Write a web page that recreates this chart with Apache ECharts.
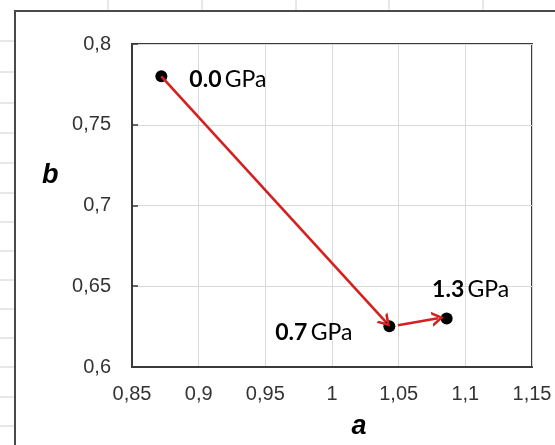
<!DOCTYPE html>
<html>
<head>
<meta charset="utf-8">
<script src="https://cdn.jsdelivr.net/npm/echarts@6/dist/echarts.min.js"></script>
<style>html,body{margin:0;padding:0;background:#fff;}#c{width:555px;height:445px;}</style>
</head>
<body>
<div id="c"></div>
<script>
// Data
var pointA = [0.872, 1.043, 1.086];
var pointB = [0.780, 0.6253, 0.630];
var pressureNum = ['0.0', '0.7', '1.3'];
var pressureUnit = 'GPa';
var xName = 'a';
var yName = 'b';
// arrows: start/end in data units
var arrowStartA = [0.872, 1.0495];
var arrowStartB = [0.780, 0.6259];
var arrowEndA = [1.0405, 1.0795];
var arrowEndB = [0.6278, 0.6302];

function fmt(v){ return String(+v.toFixed(2)).replace('.', ','); }

var chart = echarts.init(document.getElementById('c'), null, {renderer:'canvas'});

var labelPos = [
  {position:'right', distance: 22, offset:[0, 3]},
  {position:'left', distance: 31, offset:[0, 6]},
  {position:'top', distance: 11, offset:[24, 0]}
];

var scatterData = pointA.map(function(a, i){
  return {
    value:[a, pointB[i]],
    label:{
      show:true,
      position: labelPos[i].position,
      distance: labelPos[i].distance,
      offset: labelPos[i].offset,
      formatter: '{n|' + pressureNum[i] + '} {u|' + pressureUnit + '}',
      rich:{
        n:{fontFamily:'Lato', fontWeight:'bold', fontSize:23, color:'#000'},
        u:{fontFamily:'Lato', fontSize:23, color:'#000'}
      }
    }
  };
});

var arrowPath = 'path://M0,10 L5,0 L10,10 L8,10 L5,4 L2,10 Z';
var arrowData = arrowStartA.map(function(a, i){
  return [
    {coord:[a, arrowStartB[i]], symbol:'none'},
    {coord:[arrowEndA[i], arrowEndB[i]], symbol:arrowPath, symbolSize:[15,12]}
  ];
});

var sheetGraphics = [];
var rowYs = [41,72,103,133,163,193,222,251,280,309,338,367,397,426];
rowYs.forEach(function(y){
  sheetGraphics.push({type:'line', shape:{x1:0,y1:y,x2:14,y2:y}, style:{stroke:'#d0d0d0', lineWidth:1}, silent:true});
});
[108,202,296,389,483].forEach(function(x){
  sheetGraphics.push({type:'line', shape:{x1:x,y1:0,x2:x,y2:10}, style:{stroke:'#d0d0d0', lineWidth:1}, silent:true});
});
sheetGraphics.push({type:'rect', shape:{x:15,y:11,width:700,height:600}, style:{fill:'none', stroke:'#4a4a4a', lineWidth:2}, silent:true, z:-1});
sheetGraphics.push({type:'text', left:42, top:162, style:{text:yName, font:'italic bold 27px "Liberation Sans"', fill:'#000'}, silent:true});

chart.setOption({
  animation:false,
  backgroundColor:'#fff',
  graphic: sheetGraphics,
  grid:{left:132, top:44, right:23, bottom:77, show:true, borderColor:'#3a3a3a', borderWidth:2, backgroundColor:'#fff'},
  xAxis:{
    type:'value', min:0.85, max:1.15, interval:0.05,
    name:xName, nameLocation:'middle', nameGap:46,
    nameTextStyle:{fontFamily:'Liberation Sans', fontWeight:'bold', fontStyle:'italic', fontSize:27, color:'#000', padding:[0,0,0,54]},
    axisLine:{show:true, lineStyle:{color:'#3a3a3a', width:2}},
    axisTick:{show:false},
    axisLabel:{formatter:fmt, margin:17, fontFamily:'Liberation Sans', fontSize:20, color:'#333'},
    splitLine:{show:true, lineStyle:{color:'#d9d9d9', width:1}}
  },
  yAxis:{
    type:'value', min:0.6, max:0.8, interval:0.05,
    axisLine:{show:true, lineStyle:{color:'#3a3a3a', width:2}},
    axisTick:{show:true, inside:true, length:6, lineStyle:{color:'#3a3a3a', width:1.5}},
    axisLabel:{formatter:fmt, margin:21, fontFamily:'Liberation Sans', fontSize:20, color:'#333'},
    splitLine:{show:true, lineStyle:{color:'#d9d9d9', width:1}}
  },
  series:[
    {
      type:'scatter',
      symbol:'circle', symbolSize:12,
      itemStyle:{color:'#000', opacity:1},
      data: scatterData,
      z:3
    },
    {
      type:'line',
      data:[],
      markLine:{
        silent:true,
        animation:false,
        label:{show:false},
        lineStyle:{color:'#d42020', width:2.6, type:'solid', opacity:1},
        emphasis:{disabled:true},
        data: arrowData
      },
      z:2
    }
  ]
});
</script>
</body>
</html>
